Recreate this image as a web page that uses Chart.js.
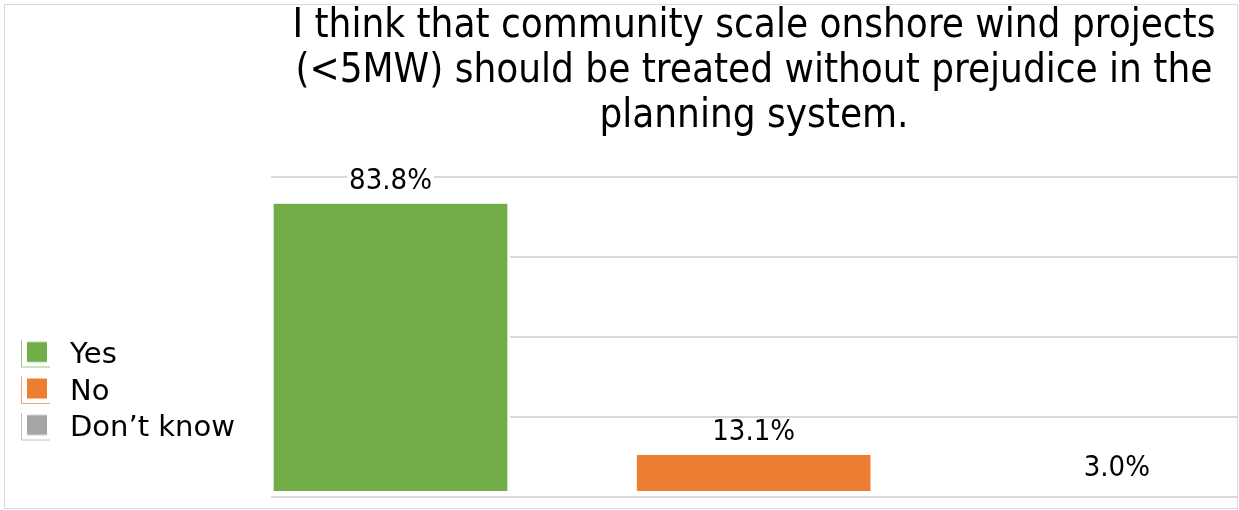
<!DOCTYPE html>
<html>
<head>
<meta charset="utf-8">
<script src="https://cdn.jsdelivr.net/npm/chart.js@4"></script>
<style>
  html, body { margin: 0; padding: 0; background: #fff; }
  #wrap { width: 1239px; height: 510px; }
</style>
</head>
<body>
<div id="wrap"><canvas id="chart" width="1239" height="510"></canvas></div>
<script>
// survey answers
const categories = ["Yes", "No", "Don\u2019t know"];
const values = [83.8, 13.1, 3.0];
const colors = ["#70ad47", "#ed7d31", "#a5a5a5"];
const titleLines = [
    "I think that community scale onshore wind projects",
    "(<5MW) should be treated without prejudice in the",
    "planning system."
];

// value axis range, gridline step and where bars start
const yMin = 1.3;
const yMax = 91.3;
const yStep = 22.5;
const barBase = 3.0;

const FONT_NARROW = "'DejaVu Sans Condensed', 'DejaVu Sans', sans-serif";
const FONT = "'DejaVu Sans', sans-serif";

// little legend swatch with the thin corner line
function legendIcon(color) {
    const c = document.createElement("canvas");
    c.width = 41;
    c.height = 34;
    const g = c.getContext("2d");
    g.fillStyle = color;
    g.fillRect(6, 3.5, 20, 20);
    g.globalAlpha = 0.7;
    g.strokeStyle = color;
    g.lineWidth = 1;
    g.beginPath();
    g.moveTo(0.5, 1.5);
    g.lineTo(0.5, 28.5);
    g.lineTo(29, 28.5);
    g.stroke();
    return c;
}
const icons = colors.map(legendIcon);

// white page + light frame
const frame = {
    id: "frame",
    beforeDraw(chart) {
        const { ctx } = chart;
        ctx.save();
        ctx.fillStyle = "#fff";
        ctx.fillRect(0, 0, chart.width, chart.height);
        ctx.strokeStyle = "#d9d9d9";
        ctx.lineWidth = 1;
        ctx.strokeRect(4.5, 4.5, 1233, 504);
        ctx.restore();
    }
};

// percentage above each bar, on a white patch
const valueLabels = {
    id: "valueLabels",
    afterDatasetsDraw(chart) {
        const { ctx } = chart;
        ctx.save();
        ctx.font = "29px " + FONT_NARROW;
        ctx.textAlign = "center";
        ctx.textBaseline = "alphabetic";
        chart.data.datasets.forEach((ds, i) => {
            const bar = chart.getDatasetMeta(i).data[0];
            if (!bar) return;
            const text = ds.data[0].y.toFixed(1) + "%";
            const m = ctx.measureText(text);
            const y = bar.y - 15;
            const asc = m.actualBoundingBoxAscent;
            const desc = m.actualBoundingBoxDescent;
            ctx.fillStyle = "#fff";
            ctx.fillRect(bar.x - m.width / 2 - 2, y - asc - 1, m.width + 4, asc + desc + 2);
            ctx.fillStyle = "#000";
            ctx.fillText(text, bar.x, y);
        });
        ctx.restore();
    }
};

const datasets = categories.map((name, i) => ({
    label: name,
    data: [{ x: i, y: values[i] }],
    backgroundColor: colors[i],
    borderColor: "#fff",
    borderWidth: { left: 3, right: 3, top: 0, bottom: 0 },
    borderSkipped: false,
    base: barBase,
    barThickness: 239,
    grouped: false
}));

new Chart(document.getElementById("chart"), {
    type: "bar",
    data: { datasets },
    options: {
        responsive: false,
        animation: false,
        events: [],
        layout: { padding: { left: 20, right: 2, top: 0, bottom: 13 } },
        plugins: {
            title: {
                display: true,
                text: titleLines,
                fullSize: false,
                color: "#000",
                font: { family: FONT_NARROW, size: 40, weight: "normal", lineHeight: 45 / 40 },
                padding: { top: 4, bottom: 38 }
            },
            legend: {
                position: "left",
                fullSize: false,
                align: "center",
                title: {
                    display: true,
                    text: " ",
                    font: { size: 10, lineHeight: 1 },
                    padding: { top: 100, bottom: 0 }
                },
                labels: {
                    color: "#000",
                    font: { family: FONT, size: 29 },
                    usePointStyle: true,
                    pointStyleWidth: 28,
                    padding: 7.5,
                    generateLabels(chart) {
                        const items = Chart.defaults.plugins.legend.labels.generateLabels(chart);
                        items.forEach((it, i) => { it.pointStyle = icons[i]; });
                        return items;
                    }
                }
            },
            tooltip: { enabled: false }
        },
        scales: {
            x: {
                type: "linear",
                display: false,
                offset: false,
                min: -0.3294,
                max: 2.3308
            },
            y: {
                min: yMin,
                max: yMax,
                ticks: { display: false, stepSize: yStep },
                grid: { color: "#d9d9d9", lineWidth: 2, drawTicks: false },
                border: { display: false },
                afterFit(scale) { scale.width = 26; }
            }
        }
    },
    plugins: [frame, valueLabels]
});
</script>
</body>
</html>
